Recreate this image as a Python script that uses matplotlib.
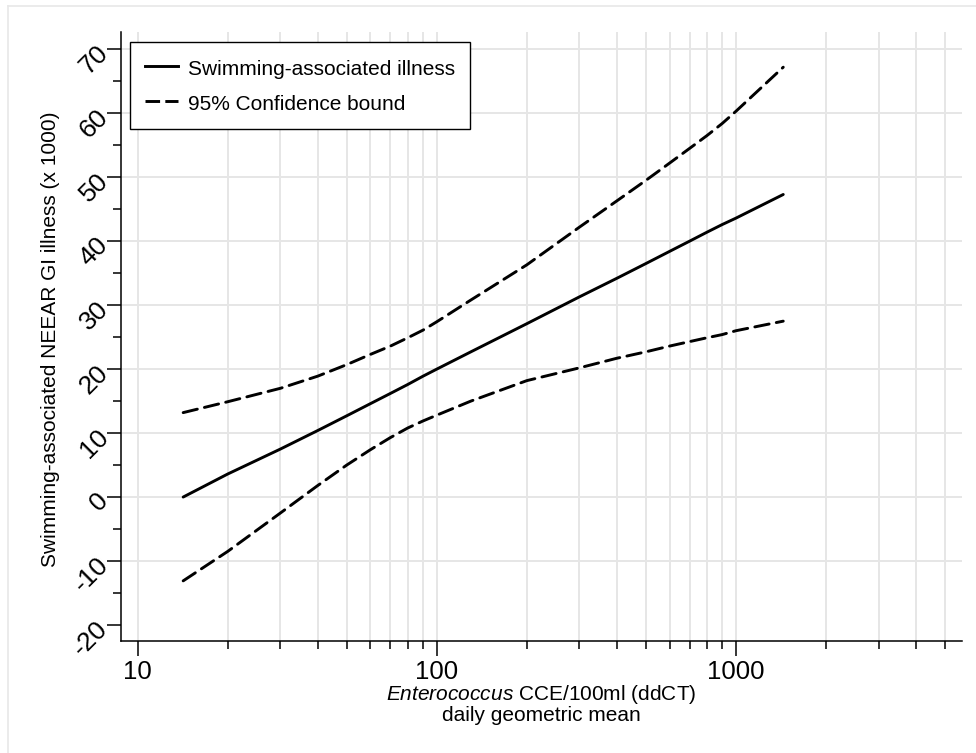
import matplotlib
matplotlib.use("Agg")
import matplotlib.pyplot as plt
from matplotlib.ticker import FixedLocator, NullFormatter, FixedFormatter
from matplotlib.lines import Line2D

plt.rcParams['font.family'] = ['Liberation Sans', 'DejaVu Sans']
plt.rcParams['mathtext.fontset'] = 'custom'
plt.rcParams['mathtext.rm'] = 'Liberation Sans'
plt.rcParams['mathtext.it'] = 'Liberation Sans:italic'
plt.rcParams['axes.unicode_minus'] = False

# Data
x_vals = [14.2, 20, 30, 40, 50, 60, 70, 80, 90, 100, 130, 200, 300, 400, 500, 600, 700, 800, 900, 1000, 1440]
estimate = [0.0, 3.6, 7.5, 10.4, 12.7, 14.6, 16.2, 17.6, 18.9, 20.0, 22.7, 27.1, 31.3, 34.2, 36.5, 38.4, 40.0, 41.4, 42.6, 43.6, 47.3]
upper = [13.2, 14.9, 17.0, 18.9, 20.7, 22.3, 23.6, 24.9, 26.1, 27.4, 30.8, 36.3, 42.2, 46.3, 49.5, 52.2, 54.5, 56.5, 58.4, 60.3, 67.2]
lower = [-13.1, -8.5, -2.5, 1.8, 5.0, 7.4, 9.3, 10.8, 11.9, 12.8, 15.0, 18.2, 20.2, 21.7, 22.7, 23.6, 24.3, 24.9, 25.4, 26.0, 27.5]

x_major = [10, 100, 1000]
x_major_labels = ['10', '100', '1000']
x_minor = [20, 30, 40, 50, 60, 70, 80, 90, 200, 300, 400, 500, 600, 700, 800, 900, 2000, 3000, 4000, 5000]
y_major = [-20, -10, 0, 10, 20, 30, 40, 50, 60, 70]
y_minor = [-15, -5, 5, 15, 25, 35, 45, 55, 65]
y_grid = [-10, 0, 10, 20, 30, 40, 50, 60, 70]

legend_labels = ['Swimming-associated illness', '95% Confidence bound']
xlabel_text = r'$\mathit{Enterococcus}$ CCE/100ml (ddCT)' + '\n' + 'daily geometric mean'
ylabel_text = 'Swimming-associated NEEAR GI illness (x 1000)'

fig = plt.figure(figsize=(9.76, 7.53), dpi=100)
ax = fig.add_axes([121/976, 1-641/753, (962-121)/976, (641-32)/753])

# figure border
fig.add_artist(Line2D([8/976, 1.0], [1-6/753, 1-6/753], color='#e8e8e8', lw=1.2, transform=fig.transFigure))
fig.add_artist(Line2D([8/976, 8/976], [0, 1-6/753], color='#e8e8e8', lw=1.2, transform=fig.transFigure))

ax.set_xscale('log')
ax.set_xlim(8.8, 5700)
ax.set_ylim(-22.5, 72.7)

# gridlines
for gx in x_major + x_minor:
    ax.axvline(gx, color='#e6e6e6', lw=1.4, zorder=0)
for gy in y_grid:
    ax.axhline(gy, color='#e6e6e6', lw=1.4, zorder=0)

lw = 2.1
ax.plot(x_vals, estimate, color='black', lw=lw, solid_capstyle='round')
ax.plot(x_vals, upper, color='black', lw=lw, dashes=(5.0, 2.5), dash_capstyle='round')
ax.plot(x_vals, lower, color='black', lw=lw, dashes=(5.0, 2.5), dash_capstyle='round')

ax.xaxis.set_major_locator(FixedLocator(x_major))
ax.xaxis.set_major_formatter(FixedFormatter(x_major_labels))
ax.xaxis.set_minor_locator(FixedLocator(x_minor))
ax.xaxis.set_minor_formatter(NullFormatter())
ax.yaxis.set_major_locator(FixedLocator(y_major))
ax.yaxis.set_minor_locator(FixedLocator(y_minor))

for s in ['top', 'right']:
    ax.spines[s].set_visible(False)
for s in ['left', 'bottom']:
    ax.spines[s].set_linewidth(1.1)

ax.tick_params(axis='x', which='major', length=11, width=1.1, labelsize=18.5, pad=3, direction='out')
ax.tick_params(axis='x', which='minor', length=6, width=1.1, direction='out')
ax.tick_params(axis='y', which='major', length=10, width=1.1, labelsize=19, pad=2, direction='out')
ax.tick_params(axis='y', which='minor', length=6, width=1.1, direction='out')
for lab in ax.get_yticklabels():
    lab.set_rotation(45)
    lab.set_ha('right')
    lab.set_va('center')
    lab.set_rotation_mode('anchor')

ax.set_xlabel(xlabel_text, fontsize=15, labelpad=-1, linespacing=1.0)
ax.set_ylabel(ylabel_text, fontsize=15)
ax.yaxis.set_label_coords((60-121)/841, 0.495)

handles = [Line2D([], [], color='black', lw=lw),
           Line2D([], [], color='black', lw=lw, dashes=(5.0, 1.8))]
leg = ax.legend(handles, legend_labels, loc='upper left', bbox_to_anchor=(0.0107, 0.9836),
                fontsize=15, frameon=True, fancybox=False, framealpha=1, edgecolor='black',
                handlelength=1.6, handleheight=1.3, handletextpad=0.5, borderpad=0.7,
                labelspacing=0.6, borderaxespad=0)
leg.get_frame().set_linewidth(1.0)

fig.savefig('out.png', dpi=100)
